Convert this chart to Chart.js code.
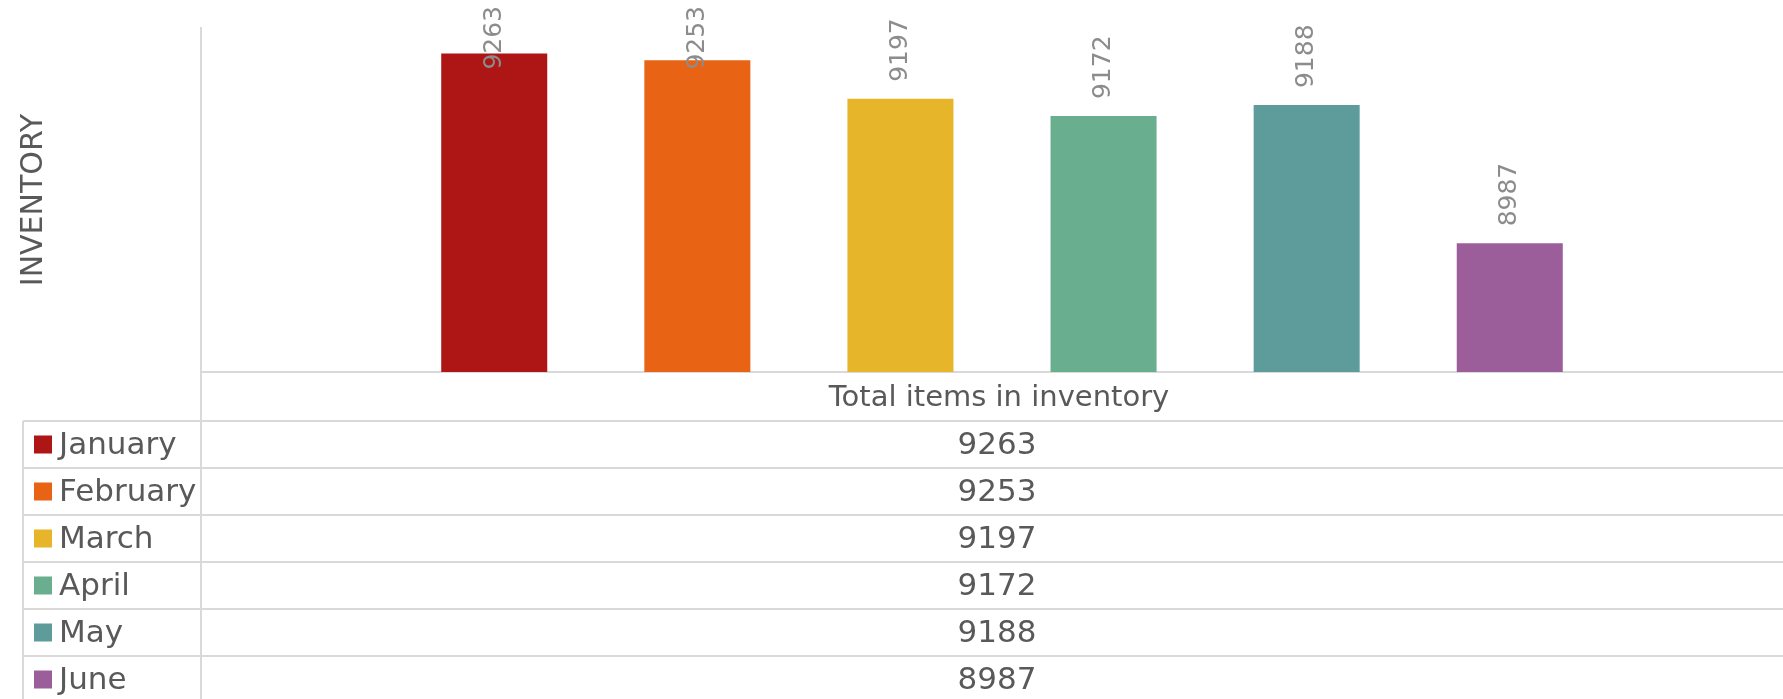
<!DOCTYPE html>
<html>
<head>
<meta charset="utf-8">
<script src="https://cdn.jsdelivr.net/npm/chart.js@4.4.0/dist/chart.umd.min.js"></script>
<style>
  html, body { margin: 0; padding: 0; overflow: hidden; background: #fff; }
  #wrap { width: 1803px; height: 699px; }
</style>
</head>
<body>
<div id="wrap"><canvas id="inventario" width="1803" height="699"></canvas></div>
<script>
const categoria = ["Total items in inventory"];
const meses = ["January", "February", "March", "April", "May", "June"];
const totales = [9263, 9253, 9197, 9172, 9188, 8987];
const colores = ["#ae1515", "#e96314", "#e6b52a", "#68ae8f", "#5e9c9c", "#9c5e9a"];
const limitesY = [8800, 9300];

const fuente = "'DejaVu Sans', sans-serif";
const gris = "#d9d9d9";
const texto = "#595959";

// tabla de datos debajo del eje (como en Excel)
const tablaDatos = {
  id: "tablaDatos",
  afterDraw(chart) {
    const { ctx, scales } = chart;
    const izq = 23, filaCat = 421, altoFila = 47;
    const ejeX = scales.y.right;
    const der = chart.width;
    ctx.save();
    ctx.strokeStyle = gris;
    ctx.lineWidth = 2;
    ctx.beginPath();
    ctx.moveTo(ejeX, scales.x.top);
    ctx.lineTo(ejeX, chart.height);
    ctx.moveTo(izq, filaCat);
    ctx.lineTo(izq, chart.height);
    for (let i = 0; i < meses.length; i++) {
      const y = filaCat + i * altoFila;
      ctx.moveTo(izq, y);
      ctx.lineTo(der, y);
    }
    ctx.stroke();

    const centro = scales.x.getPixelForValue(0) - 3;
    ctx.fillStyle = texto;
    ctx.textBaseline = "middle";
    ctx.textAlign = "center";
    ctx.font = "29px " + fuente;
    ctx.fillText(chart.data.labels[0], centro, (scales.x.top + filaCat) / 2 + 2);

    chart.data.datasets.forEach((ds, i) => {
      const yc = filaCat + i * altoFila + altoFila / 2;
      ctx.fillStyle = ds.backgroundColor;
      ctx.fillRect(34, yc - 9, 18, 18);
      ctx.fillStyle = texto;
      ctx.textAlign = "left";
      ctx.font = "31px " + fuente;
      ctx.fillText(ds.label, 59, yc + 1);
      ctx.textAlign = "center";
      ctx.font = "31px " + fuente;
      ctx.fillText(String(ds.data[0]), centro - 2, yc + 1);
    });
    ctx.restore();
  }
};

// etiquetas verticales encima de cada barra
const etiquetas = {
  id: "etiquetas",
  afterDatasetsDraw(chart) {
    const ctx = chart.ctx;
    ctx.save();
    ctx.font = "25px " + fuente;
    ctx.fillStyle = "#8c8c8c";
    ctx.textBaseline = "middle";
    ctx.textAlign = "left";
    chart.data.datasets.forEach((ds, i) => {
      chart.getDatasetMeta(i).data.forEach((barra, j) => {
        const txt = String(ds.data[j]);
        const largo = ctx.measureText(txt).width;
        const base = Math.max(barra.y - 17, 6 + largo);
        ctx.save();
        ctx.translate(barra.x, base);
        ctx.rotate(-Math.PI / 2);
        ctx.fillText(txt, 0, 0);
        ctx.restore();
      });
    });
    ctx.restore();
  }
};

new Chart(document.getElementById("inventario"), {
  type: "bar",
  data: {
    labels: categoria,
    datasets: meses.map((mes, i) => ({
      label: mes,
      data: [totales[i]],
      backgroundColor: colores[i],
      categoryPercentage: 0.7607,
      barPercentage: 0.522
    }))
  },
  options: {
    responsive: false,
    animation: false,
    layout: { padding: { top: 28, left: 0, right: 0, bottom: 0 } },
    plugins: {
      legend: { display: false },
      tooltip: { enabled: false }
    },
    scales: {
      x: {
        ticks: { display: false },
        grid: { display: false },
        border: { color: gris, width: 2 },
        afterFit: (s) => { s.height = 327; }
      },
      y: {
        min: limitesY[0],
        max: limitesY[1],
        ticks: { display: false },
        grid: { display: false },
        border: { color: gris, width: 2 },
        title: {
          display: true,
          text: "INVENTORY",
          color: texto,
          font: { family: fuente, size: 30 },
          padding: { top: 16, bottom: 0 }
        },
        afterFit: (s) => { s.width = 201; }
      }
    }
  },
  plugins: [etiquetas, tablaDatos]
});
</script>
</body>
</html>
